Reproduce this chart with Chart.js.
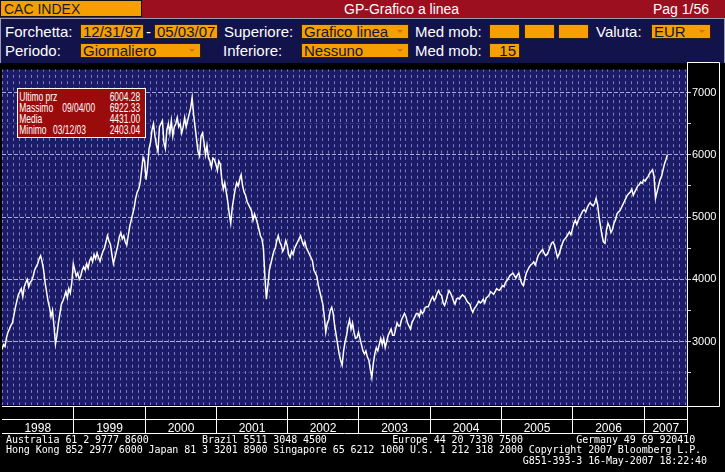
<!DOCTYPE html>
<html>
<head>
<meta charset="utf-8">
<script src="https://cdn.jsdelivr.net/npm/chart.js@4/dist/chart.umd.min.js"></script>
<style>
  html, body { margin: 0; padding: 0; background: #000; }
  body { width: 725px; height: 472px; position: relative; overflow: hidden;
         font-family: "Liberation Sans Narrow", "Arial Narrow", "Liberation Sans", sans-serif; }
  .abs { position: absolute; white-space: nowrap; }
  #topbar { left: 0; top: 0; width: 725px; height: 18px; background: #9c0f1e; }
  #ticker { left: 0; top: 0; width: 137px; height: 15px; background: #f5a000; border: 1px solid #111;
            color: #1a1a2a; font-size: 14px; line-height: 16px; padding-left: 3px; box-sizing: content-box; }
  .hdr { color: #fff; font-size: 14px; line-height: 18px; top: 0; }
  #panel { left: 0; top: 18px; width: 723px; height: 44px; background: #13134c;
           border-top: 1px solid #9a9ab4; border-left: 1px solid #9a9ab4; border-right: 1px solid #9a9ab4; }
  .lbl { color: #fff; font-size: 15px; line-height: 17px; }
  .box { background: #f5a000; border: 1px solid #2a2010; height: 15px; box-sizing: border-box;
         color: #15153a; font-size: 15px; line-height: 13px; padding-left: 2px; overflow: hidden; }
  .arrow { position: absolute; right: 5px; top: 5px; width: 0; height: 0;
           border-left: 3px solid transparent; border-right: 3px solid transparent; border-top: 3px solid #c87800; }
  #stats { left: 17px; top: 88px; width: 129px; height: 50px; background: #9a0c0c; border: 1px solid #fff;
           box-sizing: border-box; overflow: hidden; }
  #statsInner { position: absolute; left: 0; top: 2px; width: 195px; color: #fff; font-size: 13px; line-height: 11px;
                transform: scaleX(0.65); transform-origin: 0 0; }
  #statsInner div { position: relative; height: 11px; }
  #statsInner .k { position: absolute; left: 2px; }
  #statsInner .d { position: absolute; }
  #statsInner .v { position: absolute; right: 7px; }
  #chartBox { left: 0; top: 62px; width: 725px; height: 374px; }
  #footer { left: 6px; top: 435px; margin: 0; color: #fff; font-family: "DejaVu Sans Mono", monospace;
            font-size: 10px; letter-spacing: -0.08px; line-height: 10.3px; white-space: pre; }
</style>
</head>
<body>
<div class="abs" id="topbar"></div>
<div class="abs" id="ticker">CAC INDEX</div>
<div class="abs hdr" style="left:344px">GP-Grafico a linea</div>
<div class="abs hdr" style="left:653px">Pag 1/56</div>

<div class="abs" id="panel"></div>
<div class="abs lbl" style="left:5px;top:23px">Forchetta:</div>
<div class="abs box" style="left:80px;top:24px;width:64px">12/31/97</div>
<div class="abs lbl" style="left:146px;top:23px">-</div>
<div class="abs box" style="left:154px;top:24px;width:64px">05/03/07</div>
<div class="abs lbl" style="left:224px;top:23px">Superiore:</div>
<div class="abs box" style="left:301px;top:24px;width:108px">Grafico linea<span class="arrow"></span></div>
<div class="abs lbl" style="left:415px;top:23px">Med mob:</div>
<div class="abs box" style="left:489px;top:24px;width:31px"></div>
<div class="abs box" style="left:524px;top:24px;width:31px"></div>
<div class="abs box" style="left:558px;top:24px;width:31px"></div>
<div class="abs lbl" style="left:596px;top:23px">Valuta:</div>
<div class="abs box" style="left:651px;top:24px;width:60px">EUR<span class="arrow"></span></div>

<div class="abs lbl" style="left:5px;top:42px">Periodo:</div>
<div class="abs box" style="left:80px;top:43px;width:121px">Giornaliero<span class="arrow"></span></div>
<div class="abs lbl" style="left:223px;top:42px">Inferiore:</div>
<div class="abs box" style="left:301px;top:43px;width:108px">Nessuno<span class="arrow"></span></div>
<div class="abs lbl" style="left:415px;top:42px">Med mob:</div>
<div class="abs box" style="left:489px;top:43px;width:31px;text-align:right;padding-right:3px">15</div>

<div class="abs" id="chartBox"><canvas id="cacChart" width="725" height="374"></canvas></div>

<div class="abs" id="stats"><div id="statsInner"></div></div>

<pre class="abs" id="footer">Australia 61 2 9777 8600         Brazil 5511 3048 4500           Europe 44 20 7330 7500         Germany 49 69 920410
Hong Kong 852 2977 6000 Japan 81 3 3201 8900 Singapore 65 6212 1000 U.S. 1 212 318 2000 Copyright 2007 Bloomberg L.P.
                                                                                       G851-393-3 16-May-2007 18:22:40</pre>

<script>
// CAC 40 closes, four readings per month (about weekly) from Jan 1998; last one = 05/03/07
var closes = [
  // 1998
  2870, 2950, 2920, 3060,  3150, 3200, 3260, 3300,  3420, 3550, 3650, 3750,  3800, 3850, 3720, 3880,
  3950, 4000, 3880, 3950,  3980, 4050, 4150, 4200,  4250, 4330, 4380, 4280,  4150, 3950, 3800, 3650,
  3550, 3400, 3500, 3250,  2960, 3100, 3300, 3450,  3600, 3650, 3720, 3800,  3700, 3850, 3780, 3950,
  // 1999
  4250, 4150, 4050, 4100,  4000, 4050, 4150, 4200,  4150, 4250, 4180, 4300,  4350, 4280, 4400, 4330,
  4420, 4350, 4290, 4380,  4450, 4500, 4600, 4700,  4620, 4560, 4400, 4250,  4350, 4450, 4550, 4680,
  4750, 4650, 4700, 4600,  4550, 4700, 4850, 4950,  5050, 5150, 5300, 5400,  5450, 5550, 5750, 5958,
  // 2000
  5900, 5600, 5800, 6100,  6200, 6400, 6500, 6300,  6150, 6050, 6450, 6500,  6550, 6200, 6100, 6400,
  6500, 6350, 6550, 6300,  6450, 6500, 6600, 6450,  6500, 6350, 6450, 6600,  6450, 6550, 6650, 6750,
  6920, 6650, 6450, 6250,  6050, 5980, 6300, 6350,  6200, 6000, 6150, 5950,  5900, 5800, 5950, 5926,
  // 2001
  5850, 5750, 5900, 5850,  5600, 5450, 5550, 5400,  5250, 5050, 4900, 5150,  5300, 5450, 5550, 5500,
  5600, 5680, 5500, 5400,  5350, 5250, 5200, 5150,  5100, 4950, 5050, 4980,  4900, 4800, 4700, 4650,
  4500, 4050, 3680, 3900,  4150, 4250, 4350, 4450,  4500, 4620, 4700, 4600,  4550, 4450, 4500, 4620,
  // 2002
  4550, 4400, 4350, 4450,  4400, 4500, 4550, 4600,  4650, 4700, 4620, 4550,  4600, 4500, 4450, 4400,
  4350, 4300, 4150, 4100,  4050, 3900, 3800, 3700,  3600, 3400, 3150, 3300,  3350, 3500, 3550, 3450,
  3250, 3100, 2950, 2800,  2700, 2620, 2850, 3000,  3100, 3250, 3350, 3200,  3300, 3150, 3050, 3063,
  // 2003
  3150, 3050, 2950, 2850,  2800, 2850, 2750, 2700,  2550, 2420, 2650, 2800,  2900, 2850, 2950, 3050,
  2950, 3050, 2900, 3000,  3100, 3150, 3200, 3100,  3100, 3200, 3300, 3250,  3250, 3350, 3400, 3450,
  3400, 3300, 3250, 3200,  3300, 3350, 3400, 3450,  3450, 3400, 3500, 3450,  3480, 3550, 3560, 3558,
  // 2004
  3620, 3680, 3720, 3660,  3700, 3780, 3820, 3760,  3740, 3620, 3580, 3650,  3750, 3820, 3780, 3720,
  3650, 3600, 3680, 3700,  3680, 3720, 3750, 3730,  3700, 3650, 3620, 3600,  3520, 3470, 3530, 3560,
  3600, 3650, 3620, 3640,  3680, 3620, 3700, 3720,  3750, 3800, 3780, 3760,  3800, 3850, 3830, 3821,
  // 2005
  3860, 3900, 3880, 3950,  3980, 4020, 4060, 4080,  4100, 4060, 4020, 4070,  4100, 4000, 3930, 3900,
  4000, 4100, 4150, 4200,  4230, 4250, 4280, 4230,  4300, 4380, 4420, 4450,  4480, 4420, 4380, 4400,
  4450, 4520, 4580, 4600,  4550, 4450, 4350, 4400,  4480, 4550, 4620, 4650,  4680, 4720, 4760, 4715,
  // 2006
  4800, 4900, 4950, 4880,  4950, 5000, 5050, 5100,  5120, 5080, 5150, 5200,  5230, 5200, 5180, 5220,
  5300, 5200, 5000, 4850,  4700, 4600, 4580, 4800,  4900, 4850, 4750, 4800,  4900, 4950, 5050, 5080,
  5100, 5150, 5200, 5250,  5300, 5350, 5380, 5400,  5450, 5350, 5400, 5450,  5500, 5520, 5560, 5541,
  // 2007
  5600, 5580, 5620, 5650,  5700, 5730, 5760, 5650,  5300, 5400, 5500, 5600,  5650, 5750, 5850, 5920,
  6004
];
var readingsPerMonth = 4;
var years = ['1998', '1999', '2000', '2001', '2002', '2003', '2004', '2005', '2006', '2007'];
var yTicks = [2500, 3000, 3500, 4000, 4500, 5000, 5500, 6000, 6500, 7000];
var statLabels = ['Ultimo prz', 'Massimo', 'Media', 'Minimo'];
var statDates = ['', '09/04/00', '', '03/12/03'];
var statValues = ['6004.28', '6922.33', '4431.00', '2403.04'];

var points = closes.map(function (v, i) { return { x: i / readingsPerMonth, y: v }; });

var statsEl = document.getElementById('statsInner');
statLabels.forEach(function (lab, i) {
  var row = document.createElement('div');
  row.innerHTML = '<span class="k">' + lab + '</span>' +
    '<span class="d" style="left:' + (i === 1 ? 68 : 54) + 'px">' + statDates[i] + '</span>' +
    '<span class="v">' + statValues[i] + '</span>';
  statsEl.appendChild(row);
});

var narrow = '"Liberation Sans Narrow", "Arial Narrow", "Liberation Sans", sans-serif';

var framePlugin = {
  id: 'frame',
  beforeDraw: function (chart) {
    var a = chart.chartArea, ctx = chart.ctx;
    ctx.save();
    ctx.fillStyle = '#1b1b68';
    ctx.fillRect(a.left, a.top, a.right - a.left, a.bottom - a.top);
    ctx.restore();
  },
  afterDraw: function (chart) {
    var a = chart.chartArea, ctx = chart.ctx, x = chart.scales.x;
    var top = a.bottom + 1.5, mid = a.bottom + 14.5, bot = a.bottom + 28.5;
    ctx.save();
    ctx.strokeStyle = '#ffffff';
    ctx.lineWidth = 1;
    ctx.beginPath();
    ctx.moveTo(a.left, top); ctx.lineTo(a.right, top);
    ctx.moveTo(a.left, mid); ctx.lineTo(a.right, mid);
    ctx.moveTo(a.left, bot); ctx.lineTo(a.right, bot);
    ctx.moveTo(a.right + 0.5, 0.5); ctx.lineTo(a.right + 0.5, bot);
    ctx.moveTo(a.right, 0.5); ctx.lineTo(719.5, 0.5);
    ctx.lineTo(719.5, top); ctx.lineTo(a.right, top);
    var bounds = [a.left];
    for (var k = 1; k < years.length; k++) {
      var px = Math.round(x.getPixelForValue(k * 12)) + 0.5;
      bounds.push(px);
      ctx.moveTo(px, top); ctx.lineTo(px, bot);
    }
    bounds.push(a.right);
    ctx.stroke();
    ctx.fillStyle = '#ffffff';
    ctx.font = '12px ' + narrow;
    ctx.textAlign = 'center';
    ctx.textBaseline = 'alphabetic';
    years.forEach(function (yr, i) {
      ctx.fillText(yr, (bounds[i] + bounds[i + 1]) / 2, bot - 2);
    });
    ctx.restore();
  }
};

new Chart(document.getElementById('cacChart'), {
  type: 'line',
  data: {
    datasets: [{
      data: points,
      borderColor: '#ffffff',
      borderWidth: 1.5,
      pointRadius: 0,
      tension: 0,
      fill: false
    }]
  },
  options: {
    responsive: false,
    animation: false,
    events: [],
    layout: { padding: { left: 2, top: 4, right: 0, bottom: 0 } },
    plugins: { legend: { display: false }, tooltip: { enabled: false } },
    scales: {
      x: {
        type: 'linear',
        min: 0,
        max: 115.3,
        afterBuildTicks: function (s) {
          var t = [];
          for (var m = 0; m <= 115; m++) t.push({ value: m });
          s.ticks = t;
        },
        ticks: { display: false, autoSkip: false },
        grid: { color: 'rgba(150,150,215,0.8)', drawTicks: false, lineWidth: 1 },
        border: { display: false, dash: [3, 3.3], dashOffset: 1 },
        afterFit: function (s) { s.height = 31; }
      },
      y: {
        position: 'right',
        min: 1980,
        max: 7370,
        afterBuildTicks: function (s) {
          s.ticks = yTicks.map(function (v) { return { value: v }; });
        },
        ticks: {
          autoSkip: false,
          color: '#ffffff',
          padding: 1,
          font: { family: narrow, size: 11 },
          callback: function (v) { return v % 1000 === 0 ? String(v) : ''; }
        },
        grid: {
          color: function (c) {
            return c.tick && c.tick.value % 1000 === 0 ? 'rgba(190,190,230,0.9)' : 'rgba(140,140,200,0.25)';
          },
          tickColor: '#cfcfe0',
          tickLength: 4
        },
        border: { display: false, dash: [4, 2] },
        afterFit: function (s) { s.width = 38; }
      }
    }
  },
  plugins: [framePlugin]
});
</script>
</body>
</html>
